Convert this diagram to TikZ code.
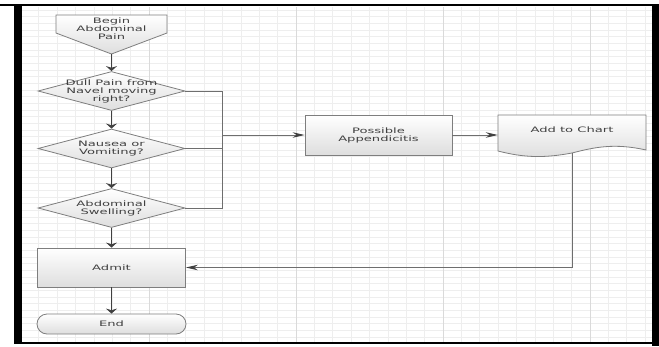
\documentclass[tikz,border=0pt]{standalone}
\usepackage{fontspec}
\setmainfont{DejaVu Sans}[FakeStretch=1.75]
\usetikzlibrary{arrows.meta,positioning,calc,shapes.geometric}
\definecolor{vink}{HTML}{404040}
\definecolor{vedge}{HTML}{7E7E7E}
\definecolor{vline}{HTML}{6E6E6E}
\definecolor{vgrid}{HTML}{EEEEEE}
\definecolor{vgridm}{HTML}{DADADA}
\tikzset{
  shapeline/.style={draw=vedge,line width=0.8pt,top color=white,bottom color=black!13},
  base/.style={shapeline,text=vink,font=\fontsize{7.5}{8}\selectfont,align=center,inner sep=0pt},
  procbox/.style={base,rectangle,minimum width=148pt,minimum height=40pt},
  decision/.style={base,diamond,minimum width=147pt,minimum height=39pt},
  termbox/.style={base,rectangle,rounded corners=10pt,minimum width=149pt,minimum height=20pt},
  txt/.style={text=vink,font=\fontsize{7.5}{8}\selectfont,align=center,inner sep=0pt},
  varr/.style={-{Stealth[length=5pt,width=11pt]},line width=1.4pt,draw=vink},
  harr/.style={-{Stealth[length=12pt,width=5.5pt,color=vink]},line width=0.9pt,draw=vline},
  link/.style={line width=0.9pt,draw=vline},
}
\begin{document}
\begin{tikzpicture}[x=1pt,y=-1pt]
\useasboundingbox (0,0) rectangle (659,346);
% grid
\foreach \k in {0,...,34} \draw[vgrid,line width=0.6pt] (20.4+18.375*\k,7) -- (20.4+18.375*\k,342);
\foreach \k in {0,...,49} \draw[vgrid,line width=0.5pt] (22,10+6.67*\k) -- (652,10+6.67*\k);
\foreach \gx in {149,296,443,590} \draw[vgridm,line width=0.7pt] (\gx,7) -- (\gx,342);
% frame
\fill[black] (0,3.5) rectangle (659,6);
\fill[black] (14,6) rectangle (22,343);
\fill[black] (652,6) rectangle (659,346);
\fill[black] (14,341.5) rectangle (652,343.5);
% shapes
\path[shapeline] (56,15) -- (167,15) -- (167,33) -- (111.5,54) -- (56,33) -- cycle;
\node[txt] (begin) at (111.5,29) {Begin\\Abdominal\\Pain};
\coordinate (begin tip) at (111.5,54);
\node[decision, label={[txt]center:{Dull Pain from\\Navel moving\\right?}}] (d1) at (111.5,91) {};
\node[decision, label={[txt]center:{Nausea or\\Vomiting?}}] (d2) at (111.5,148.5) {};
\node[decision, label={[txt]center:{Abdominal\\Swelling?}}] (d3) at (111.5,208) {};
\node[procbox, minimum height=39pt] (admit) at (111.5,267.5) {Admit};
\node[termbox] (stop) at (111.5,324) {End};
\node[procbox, minimum width=147pt] (pa) at (378.5,135) {Possible\\Appendicitis};
\path[shapeline] (498,115) -- (646,115) -- (646,150)
  .. controls (615,143) and (595,147) .. (572,153)
  .. controls (545,158) and (525,158) .. (498,151) -- cycle;
\node[txt, minimum width=148pt] (chart) at (572,130) {Add to Chart};
\coordinate (chart bot) at (572,153);
\coordinate (bus) at (222,135);
% connectors
\draw[varr] (begin tip) -- (d1.north);
\draw[varr] (d1) -- (d2);
\draw[varr] (d2) -- (d3);
\draw[varr] (d3) -- (admit);
\draw[varr] (admit) -- (stop);
\draw[link] (d1.east) -| (bus |- d3.east) -- (d3.east);
\draw[link] (d2.east) -- (d2.east -| bus);
\draw[harr] (bus) -- (pa.west);
\draw[harr] (pa.east) -- (pa.east -| chart.west);
\draw[harr] (chart bot) |- (admit.east);
\end{tikzpicture}
\end{document}
